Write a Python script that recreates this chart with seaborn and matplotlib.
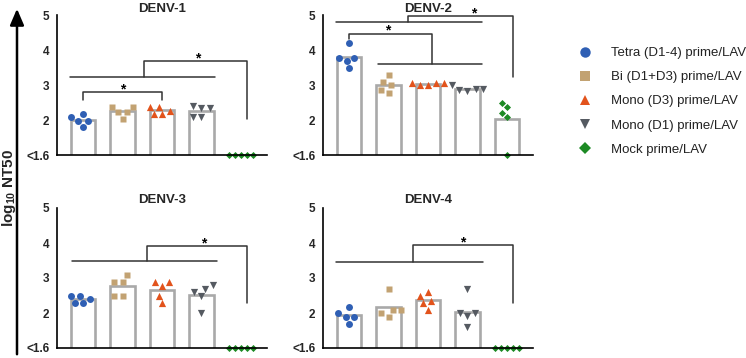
import numpy as np
import pandas as pd
import matplotlib
matplotlib.use("Agg")
import matplotlib.pyplot as plt
import seaborn as sns
from matplotlib.lines import Line2D

# groups, colours, markers
groups = [
    "Tetra (D1-4) prime/LAV",
    "Bi (D1+D3) prime/LAV",
    "Mono (D3) prime/LAV",
    "Mono (D1) prime/LAV",
    "Mock prime/LAV",
]
colors = ["#2f5fb4", "#c2a272", "#e2531c", "#555a61", "#1d8a24"]
markers = ["o", "s", "^", "v", "D"]
msizes = [5.0, 5.0, 5.2, 5.2, 3.6]
# invisible edge width, only widens the swarm spacing
spread = [0.8, 0.8, 0.6, 0.6, 0.6]

# log10 NT50 per animal, 1.0 stands for "<1.6" (below detection)
denv1 = [
    [1.98, 2.10, 2.17, 1.98, 1.79],
    [2.38, 2.38, 2.22, 2.22, 2.02],
    [2.38, 2.38, 2.17, 2.26, 2.17],
    [2.33, 2.40, 2.33, 2.10, 2.10],
    [1.0, 1.0, 1.0, 1.0, 1.0],
]
denv2 = [
    [4.19, 3.70, 3.78, 3.78, 3.48],
    [3.29, 3.00, 3.10, 2.78, 2.86],
    [3.05, 3.05, 3.05, 3.00, 3.00],
    [3.00, 2.86, 2.90, 2.84, 2.90],
    [2.38, 2.48, 2.10, 2.19, 1.0],
]
denv3 = [
    [2.49, 2.39, 2.49, 2.28, 2.28],
    [3.09, 2.90, 2.90, 2.49, 2.49],
    [2.77, 2.90, 2.90, 2.49, 2.28],
    [2.70, 2.80, 2.49, 2.61, 1.99],
    [1.0, 1.0, 1.0, 1.0, 1.0],
]
denv4 = [
    [2.18, 1.90, 1.99, 1.90, 1.69],
    [2.70, 2.10, 2.10, 1.90, 1.99],
    [2.49, 2.61, 2.28, 2.35, 2.09],
    [2.70, 1.91, 1.99, 1.99, 1.61],
    [1.0, 1.0, 1.0, 1.0, 1.0],
]

titles = ["DENV-1", "DENV-2", "DENV-3", "DENV-4"]
panels = [denv1, denv2, denv3, denv4]

ytick_vals = [1, 2, 3, 4, 5]
ytick_labels = ["<1.6", "2", "3", "4", "5"]

# significance brackets (data coords) and star positions
brackets = [
    [[(0, 2.57), (0, 2.8), (2, 2.8), (2, 2.57)],
     [(-0.33, 3.23), (3.34, 3.23)],
     [(1.54, 3.23), (1.54, 3.69), (4.15, 3.69), (4.15, 2.03)]],
    [[(-0.33, 4.81), (3.38, 4.81)],
     [(1.49, 4.81), (1.49, 4.97), (4.15, 4.97), (4.15, 3.23)],
     [(0, 4.31), (0, 4.46), (2.1, 4.46), (2.1, 3.6)],
     [(0.74, 3.6), (3.38, 3.6)]],
    [[(-0.28, 3.49), (3.39, 3.49)],
     [(1.61, 3.49), (1.61, 3.92), (4.15, 3.92), (4.15, 2.28)]],
    [[(-0.33, 3.47), (3.4, 3.47)],
     [(1.62, 3.47), (1.62, 3.94), (4.15, 3.94), (4.15, 2.29)]],
]
stars = [
    [(1, 2.86), (2.9, 3.76)],
    [(3.15, 5.03), (0.97, 4.55)],
    [(3.06, 3.99)],
    [(2.87, 4.01)],
]

sns.set_style("white")
plt.rcParams["font.family"] = ["Liberation Sans", "DejaVu Sans"]
plt.rcParams["mathtext.fontset"] = "custom"
plt.rcParams["mathtext.rm"] = "Liberation Sans"
plt.rcParams["mathtext.bf"] = "Liberation Sans:bold"

fig = plt.figure(figsize=(7.46, 3.58), dpi=100)
W, H = 746, 358
ax_pos = [(57, 15), (323, 15), (57, 208), (323, 208)]
title_pad = [2.0, 2.0, 3.5, 3.5]

for i, (df_vals, title) in enumerate(zip(panels, titles)):
    x0, ytop = ax_pos[i]
    ax = fig.add_axes([x0 / W, 1 - (ytop + 140) / H, 210 / W, 140 / H])
    df = pd.DataFrame(
        [(g, v) for g, vals in zip(groups, df_vals) for v in vals],
        columns=["group", "value"],
    )
    sns.barplot(data=df, x="group", y="value", order=groups, estimator="mean",
                errorbar=None, color="white", edgecolor="#a9a9a9", linewidth=1.9,
                width=0.63, ax=ax, zorder=1)
    for g, c, m, s, sp in zip(groups, colors, markers, msizes, spread):
        n_before = len(ax.collections)
        sns.swarmplot(data=df[df["group"] == g], x="group", y="value", order=groups,
                      color=c, marker=m, size=s, linewidth=sp, edgecolor=(0, 0, 0, 0),
                      ax=ax, zorder=3, warn_thresh=1)
        for coll in ax.collections[n_before:]:
            coll.set_clip_on(False)

    for seg in brackets[i]:
        xs, ys = zip(*seg)
        ax.plot(xs, ys, color="#333333", lw=1.1, clip_on=False, zorder=2)
    for sx, sy in stars[i]:
        ax.text(sx, sy, "*", ha="center", va="center", fontsize=10,
                fontweight="bold", color="black", clip_on=False)

    ax.set_xlim(-0.66, 4.66)
    ax.set_ylim(1, 5)
    ax.set_yticks(ytick_vals)
    ax.set_yticklabels(ytick_labels)
    ax.set_xticks(range(len(groups)))
    ax.set_xticklabels([])
    ax.set_xlabel("")
    ax.set_ylabel("")
    ax.set_title(title, fontsize=9.5, fontweight="bold", pad=title_pad[i])
    for side in ["top", "right"]:
        ax.spines[side].set_visible(False)
    for side in ["left", "bottom"]:
        ax.spines[side].set_color("black")
        ax.spines[side].set_linewidth(1.2)
        ax.spines[side].set_zorder(4)
    ax.tick_params(axis="both", direction="out", length=3.5, width=1.0,
                   color="black", labelsize=8.5, pad=2)
    for lab in ax.get_yticklabels():
        lab.set_fontweight("bold")

# y axis arrow and label
fig.add_artist(matplotlib.patches.FancyArrowPatch(
    (17 / W, 1 - 357 / H), (17 / W, 1 - 6 / H), transform=fig.transFigure,
    arrowstyle="-|>,head_length=0.7,head_width=0.3", mutation_scale=14,
    lw=1.8, color="black"))
fig.text(9 / W, 1 - 188 / H, r"log$_{\mathbf{10}}$ NT50", rotation=90,
         ha="center", va="center", fontsize=11, fontweight="bold")

# legend
handles = [Line2D([], [], ls="none", marker=m, color=c, markersize=7.5 if m != "D" else 6,
                  markeredgewidth=0) for c, m in zip(colors, markers)]
fig.legend(handles, groups, loc="upper left", bbox_to_anchor=(578 / W, 1 - 47 / H),
           frameon=False, fontsize=9.5, labelspacing=0.9, handletextpad=1.5,
           borderpad=0, borderaxespad=0, handlelength=1.0, labelcolor="#222222")

fig.savefig("out.png", dpi=100)
